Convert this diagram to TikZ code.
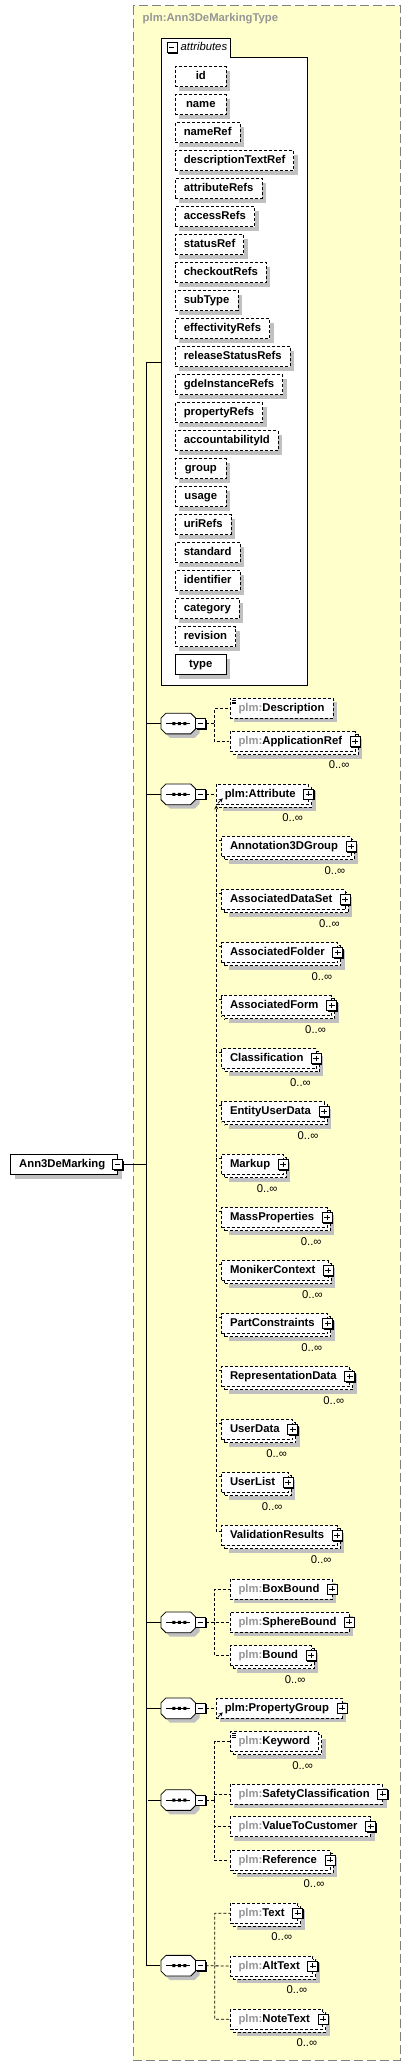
\documentclass[tikz,border=0pt]{standalone}
\usepackage{fontspec}
\setmainfont{Liberation Sans}
\usetikzlibrary{positioning,shadows}
\definecolor{panel}{RGB}{255,255,204}
\definecolor{plmgray}{RGB}{150,150,150}
\definecolor{shadowgray}{RGB}{192,192,192}
\newcommand{\plm}{\textcolor{plmgray}{plm:}}
\newcommand{\lbl}{\fontsize{11.3}{13}\selectfont}

\begin{document}
\begin{tikzpicture}[x=1pt, y=-1pt, >=stealth, shorten >=1pt, node distance=8pt, line width=0.8pt,
  shade4/.style={drop shadow={shadow xshift=4pt, shadow yshift=-4pt, fill=shadowgray, opacity=1}},
  elbox/.style={draw, fill=white, anchor=west, font=\lbl\bfseries, inner xsep=8.5pt, inner ysep=0pt, outer sep=0pt,
    minimum height=20pt, text height=8.6pt, text depth=2.4pt, dash pattern=on 3pt off 2pt},
  elone/.style={elbox, shade4},
  elmany/.style={elbox,
    drop shadow={shadow xshift=7pt, shadow yshift=-7pt, fill=shadowgray, opacity=1},
    copy shadow={shadow xshift=3pt, shadow yshift=-3pt, draw=black, fill=white, line width=0.8pt, dash pattern=on 3pt off 2pt}},
  attbox/.style={elone, minimum width=51pt},
  mult/.style={font=\lbl, inner sep=0pt},
  sqbox/.style={draw, solid, fill=white, minimum size=10pt, inner sep=0pt, outer sep=0pt, line width=0.7pt,
    drop shadow={shadow xshift=1pt, shadow yshift=-1pt, fill=black, opacity=1}},
  pbox/.style={sqbox, path picture={\draw[line width=0.7pt]
    ([xshift=2pt]path picture bounding box.west) -- ([xshift=-2pt]path picture bounding box.east)
    ([yshift=-2pt]path picture bounding box.north) -- ([yshift=2pt]path picture bounding box.south);}},
  mbox/.style={sqbox, path picture={\draw[line width=0.7pt]
    ([xshift=2pt]path picture bounding box.west) -- ([xshift=-2pt]path picture bounding box.east);}},
  pluson/.style={execute at end node={\hspace{4.5pt}}},
  docicon/.style={append after command={
    ([shift={(2,1.8)}]\tikzlastnode.north west) edge[solid, line width=0.6pt] +(4.5,0)
    ([shift={(2,3.6)}]\tikzlastnode.north west) edge[solid, line width=0.6pt] +(4.5,0)
    ([shift={(2,5.4)}]\tikzlastnode.north west) edge[solid, line width=0.6pt] +(4.5,0)}},
  refarrow/.style={append after command={([shift={(1.5,-1)}]\tikzlastnode.south west) edge[solid, -stealth, shorten >=0pt, line width=0.8pt] +(5,-5)}},
  seqbox/.style={minimum width=34.7pt, minimum height=20.7pt, inner sep=0pt, outer sep=0pt},
  wire/.style={dash pattern=on 3pt off 2pt, line width=0.8pt}]

  \useasboundingbox (0,0) rectangle (411,2067);

  % type panel
  \draw[fill=panel, draw=gray, dash pattern=on 9pt off 4pt, line width=1pt] (133,5.7) rectangle (400,2060);
  \node[anchor=west, font=\lbl\bfseries, text=plmgray] (title) at (139,19) {plm:Ann3DeMarkingType};

  % root element
  \node[elone, solid, execute at end node={\hspace{4pt}}] (root) at (10.7,1164.5) {Ann3DeMarking};
  \node[mbox] (rootm) at (root.east) {};

  % attributes group
  \node[fill=white, minimum width=145.3pt, minimum height=628.7pt, anchor=north west, inner sep=0pt, outer sep=0pt] (attrs) at (161.7,57) {};
  \node[fill=white, anchor=south west, minimum height=19pt, inner xsep=3pt, inner ysep=0pt, outer sep=0pt, font=\lbl\itshape,
    text height=8.6pt, text depth=2.4pt] (atab) at (attrs.north west) {\hspace{16pt}attributes\hspace{5pt}};
  \draw[line width=0.9pt] (atab.north west) -- (atab.north east) |- (attrs.north east) |- (attrs.south west) -- cycle;
  \node[mbox] (atabm) at ([xshift=10.3pt]atab.west) {};

  \node[attbox] (aId) at (175.3,76.5) {id};
  \node[attbox] (aName) [below=of aId.south west, anchor=north west] {name};
  \node[attbox] (aNameRef) [below=of aName.south west, anchor=north west] {nameRef};
  \node[attbox] (aDescr) [below=of aNameRef.south west, anchor=north west] {descriptionTextRef};
  \node[attbox] (aAttrRefs) [below=of aDescr.south west, anchor=north west] {attributeRefs};
  \node[attbox] (aAccess) [below=of aAttrRefs.south west, anchor=north west] {accessRefs};
  \node[attbox] (aStatus) [below=of aAccess.south west, anchor=north west] {statusRef};
  \node[attbox] (aCheckout) [below=of aStatus.south west, anchor=north west] {checkoutRefs};
  \node[attbox] (aSubType) [below=of aCheckout.south west, anchor=north west] {subType};
  \node[attbox] (aEffect) [below=of aSubType.south west, anchor=north west] {effectivityRefs};
  \node[attbox] (aRelease) [below=of aEffect.south west, anchor=north west] {releaseStatusRefs};
  \node[attbox] (aGde) [below=of aRelease.south west, anchor=north west] {gdeInstanceRefs};
  \node[attbox] (aProp) [below=of aGde.south west, anchor=north west] {propertyRefs};
  \node[attbox] (aAcct) [below=of aProp.south west, anchor=north west] {accountabilityId};
  \node[attbox] (aGroup) [below=of aAcct.south west, anchor=north west] {group};
  \node[attbox] (aUsage) [below=of aGroup.south west, anchor=north west] {usage};
  \node[attbox] (aUri) [below=of aUsage.south west, anchor=north west] {uriRefs};
  \node[attbox] (aStd) [below=of aUri.south west, anchor=north west] {standard};
  \node[attbox] (aIdent) [below=of aStd.south west, anchor=north west] {identifier};
  \node[attbox] (aCat) [below=of aIdent.south west, anchor=north west] {category};
  \node[attbox] (aRev) [below=of aCat.south west, anchor=north west] {revision};
  \node[attbox, solid] (aType) [below=of aRev.south west, anchor=north west] {type};

  % sequences
  \node[seqbox] (s1) at (178.3,723.5) {};
  \node[seqbox] (s2) at (178.3,794.3) {};
  \node[seqbox] (s3) at (178.3,1622.3) {};
  \node[seqbox] (s4) at (178.3,1708.3) {};
  \node[seqbox] (s5) at (178.3,1800) {};
  \node[seqbox] (s6) at (178.3,1965.7) {};
  \foreach \sq in {s1,s2,s3,s4,s5,s6} {
    \fill[shadowgray] ([shift={(4,4)}]\sq.center) +(-17.35,-5.35) -- +(-12.35,-10.35) -- +(12.35,-10.35) -- +(17.35,-5.35)
      -- +(17.35,5.35) -- +(12.35,10.35) -- +(-12.35,10.35) -- +(-17.35,5.35) -- cycle;
    \draw[fill=white] (\sq.center) +(-17.35,-5.35) -- +(-12.35,-10.35) -- +(12.35,-10.35) -- +(17.35,-5.35)
      -- +(17.35,5.35) -- +(12.35,10.35) -- +(-12.35,10.35) -- +(-17.35,5.35) -- cycle;
    \draw[line width=0.9pt] ([xshift=5pt]\sq.west) -- ([xshift=-5pt]\sq.east);
    \fill ([xshift=-4.5pt]\sq.center) +(-1.5,-1.5) rectangle +(1.5,1.5)
          ([xshift=1pt]\sq.center) +(-1.5,-1.5) rectangle +(1.5,1.5)
          ([xshift=6.5pt]\sq.center) +(-1.5,-1.5) rectangle +(1.5,1.5);
  }
  \node[mbox] (s1m) [right=0pt of s1] {};
  \node[mbox] (s2m) [right=0pt of s2] {};
  \node[mbox] (s3m) [right=0pt of s3] {};
  \node[mbox] (s4m) [right=0pt of s4] {};
  \node[mbox] (s5m) [right=0pt of s5] {};
  \node[mbox] (s6m) [right=0pt of s6] {};

  % spine
  \coordinate (spine) at (146.7,1164.5);
  \draw[line width=1pt] (rootm.east) -- (spine);
  \draw[line width=1pt] ([yshift=9pt]attrs.west) -| (spine) |- (s6.west);
  \draw[line width=1pt] (s1.west) -- (s1.west -| spine) (s2.west) -- (s2.west -| spine)
    (s3.west) -- (s3.west -| spine) (s4.west) -- (s4.west -| spine) (s5.west) -- (s5.west -| spine);

  % first sequence
  \node[elone, docicon] (desc) at (230,708.3) {\plm Description};
  \node[elmany, pluson] (appref) at (230,741.5) {\plm ApplicationRef};
  \draw[wire] (s1m.east) -- ++(9,0) |- (desc.west) (s1m.east) ++(9,0) |- (appref.west);

  % substitution group
  \node[elmany, pluson, refarrow] (attr) at (216.3,794.3) {plm:Attribute};
  \draw[wire] (s2m.east) -- (attr.west);
  \node[elmany, pluson] (ann) at (221.5,846.7) {Annotation3DGroup};
  \node[elmany, pluson] (ads) [below=33pt of ann.south west, anchor=north west] {AssociatedDataSet};
  \node[elmany, pluson] (afo) [below=33pt of ads.south west, anchor=north west] {AssociatedFolder};
  \node[elmany, pluson] (afm) [below=33pt of afo.south west, anchor=north west] {AssociatedForm};
  \node[elmany, pluson] (cls) [below=33pt of afm.south west, anchor=north west] {Classification};
  \node[elmany, pluson] (eud) [below=33pt of cls.south west, anchor=north west] {EntityUserData};
  \node[elmany, pluson] (mkp) [below=33pt of eud.south west, anchor=north west] {Markup};
  \node[elmany, pluson] (msp) [below=33pt of mkp.south west, anchor=north west] {MassProperties};
  \node[elmany, pluson] (mnk) [below=33pt of msp.south west, anchor=north west] {MonikerContext};
  \node[elmany, pluson] (pcs) [below=33pt of mnk.south west, anchor=north west] {PartConstraints};
  \node[elmany, pluson] (rpd) [below=33pt of pcs.south west, anchor=north west] {RepresentationData};
  \node[elmany, pluson] (usd) [below=33pt of rpd.south west, anchor=north west] {UserData};
  \node[elmany, pluson] (usl) [below=33pt of usd.south west, anchor=north west] {UserList};
  \node[elmany, pluson] (vlr) [below=33pt of usl.south west, anchor=north west] {ValidationResults};
  \draw[wire, ->] ([yshift=4pt]vlr.west) -| (attr.south west);
  \path[wire, draw]
    ([yshift=6pt]ann.west) -- ([yshift=6pt]ann.west -| attr.west)
    ([yshift=6pt]ads.west) -- ([yshift=6pt]ads.west -| attr.west)
    ([yshift=6pt]afo.west) -- ([yshift=6pt]afo.west -| attr.west)
    ([yshift=6pt]afm.west) -- ([yshift=6pt]afm.west -| attr.west)
    ([yshift=6pt]cls.west) -- ([yshift=6pt]cls.west -| attr.west)
    ([yshift=6pt]eud.west) -- ([yshift=6pt]eud.west -| attr.west)
    ([yshift=6pt]mkp.west) -- ([yshift=6pt]mkp.west -| attr.west)
    ([yshift=6pt]msp.west) -- ([yshift=6pt]msp.west -| attr.west)
    ([yshift=6pt]mnk.west) -- ([yshift=6pt]mnk.west -| attr.west)
    ([yshift=6pt]pcs.west) -- ([yshift=6pt]pcs.west -| attr.west)
    ([yshift=6pt]rpd.west) -- ([yshift=6pt]rpd.west -| attr.west)
    ([yshift=6pt]usd.west) -- ([yshift=6pt]usd.west -| attr.west)
    ([yshift=6pt]usl.west) -- ([yshift=6pt]usl.west -| attr.west);

  % bounds
  \node[elone, pluson] (boxb) at (230,1589.3) {\plm BoxBound};
  \node[elone, pluson] (sphb) at (230,1622.3) {\plm SphereBound};
  \node[elmany, pluson] (bound) at (230,1655.7) {\plm Bound};
  \draw[wire] (s3m.east) -- ++(9,0) |- (boxb.west) (s3m.east) -- (sphb.west) (s3m.east) ++(9,0) |- (bound.west);

  % property group
  \node[elone, pluson, refarrow] (pgrp) at (216.3,1708.3) {plm:PropertyGroup};
  \draw[wire] (s4m.east) -- (pgrp.west);

  % keywords
  \node[elmany, docicon] (kw) at (230,1741.7) {\plm Keyword};
  \node[elone, pluson] (safety) at (230,1794.3) {\plm SafetyClassification};
  \node[elone, pluson] (vtc) at (230,1826.7) {\plm ValueToCustomer};
  \node[elmany, pluson] (refer) at (230,1860.3) {\plm Reference};
  \draw[wire] (s5m.east) -- ++(9,0) |- (kw.west) (s5m.east) ++(9,0) |- (safety.west)
    (s5m.east) ++(9,0) |- (vtc.west) (s5m.east) ++(9,0) |- (refer.west);

  % texts
  \node[elmany, pluson] (txt) at (230,1913.3) {\plm Text};
  \node[elmany, pluson] (alt) at (230,1966) {\plm AltText};
  \node[elmany, pluson] (note) at (230,2019.3) {\plm NoteText};
  \draw[wire] (s6m.east) -- ++(9,0) |- (txt.west) (s6m.east) -- (alt.west) (s6m.east) ++(9,0) |- (note.west);

  % expand boxes and occurrences
  \foreach \el in {appref,attr,ann,ads,afo,afm,cls,eud,mkp,msp,mnk,pcs,rpd,usd,usl,vlr,
      boxb,sphb,bound,pgrp,safety,vtc,refer,txt,alt,note}
    \node[pbox] (\el-p) at (\el.east) {};
  \foreach \el in {appref,attr,ann,ads,afo,afm,cls,eud,mkp,msp,mnk,pcs,rpd,usd,usl,vlr,
      bound,kw,refer,txt,alt,note}
    \node[mult] (\el-m) at ([shift={(-16,13.5)}]\el.south east) {0..∞};
\end{tikzpicture}
\end{document}
